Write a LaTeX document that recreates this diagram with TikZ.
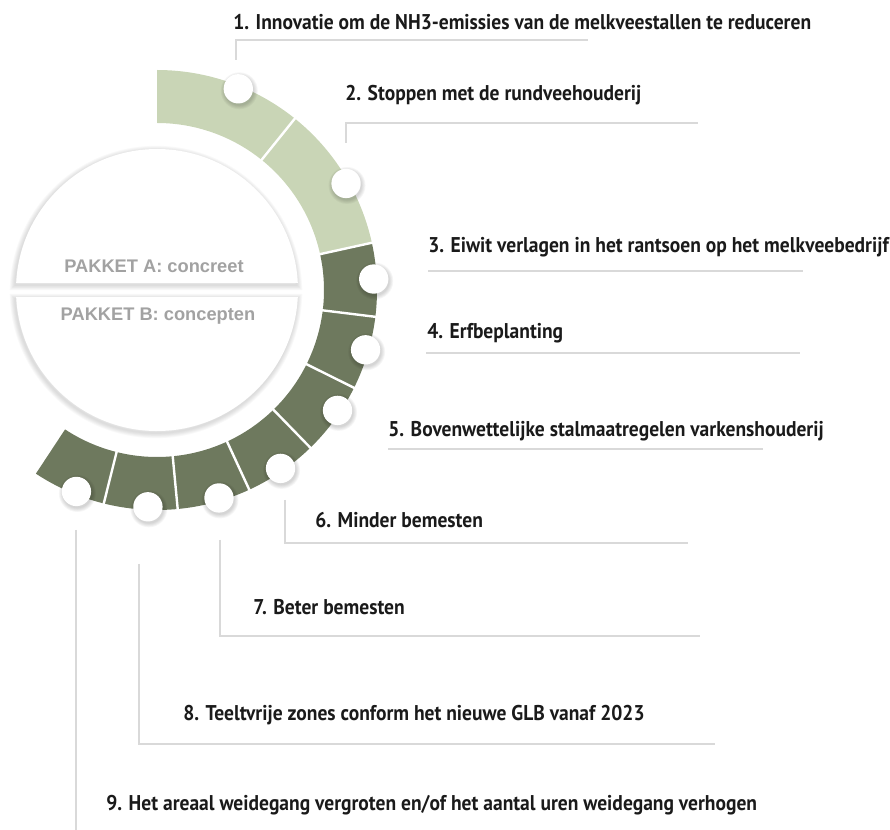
\documentclass[tikz,border=0pt]{standalone}
\usepackage{fontspec}
\setmainfont{PT Sans}
\newfontfamily\labelfont[FakeStretch=0.915]{PT Sans}
\newfontfamily\pakketfont{Liberation Sans}
\usetikzlibrary{positioning}

\definecolor{lightsage}{RGB}{201,213,182}
\definecolor{darksage}{RGB}{110,121,94}
\definecolor{leadergray}{RGB}{217,217,217}
\definecolor{pakketgray}{RGB}{162,162,162}
\definecolor{labelblack}{RGB}{26,26,26}

\tikzset{
  leader/.style={draw=leadergray, line width=1.2},
  item/.style={anchor=west, inner sep=0pt, text=labelblack,
    font=\labelfont\bfseries\fontsize{16}{19}\selectfont},
  pakket/.style={inner sep=0pt, text=pakketgray,
    font=\pakketfont\bfseries\fontsize{13.7}{16}\selectfont},
  dot/.style={circle, fill=white, minimum size=22pt, inner sep=0pt},
  halo/.style={draw=black, draw opacity=0.025},
}

\begin{document}
\begin{tikzpicture}[x=0.75pt,y=0.75pt,yscale=-1,xscale=1]
\useasboundingbox (0,0) rectangle (890,830);

%Shape: Ring and disc
\begin{scope}[shift={(157,290)},yscale=-1]
  % disc halves with soft shadow
  \foreach \s in {1,...,6}{
    \draw[halo, line width=\s*1.3] ([shift={(-1,-2)}]2.85:141) arc (2.85:177.15:141) -- cycle;
    \draw[halo, line width=\s*1.3] ([shift={(-1,-2)}]-2.85:141) arc (-2.85:-177.15:141) -- cycle;
  }
  \fill[white] (2.85:141) arc (2.85:177.15:141) -- cycle;
  \fill[white] (-2.85:141) arc (-2.85:-177.15:141) -- cycle;

  % ring segments
  \foreach \a/\b/\c in {90/51.2/lightsage, 51.2/12.4/lightsage, 12.4/-7/darksage,
      -7/-26.4/darksage, -26.4/-45.8/darksage, -45.8/-65.2/darksage,
      -65.2/-84.6/darksage, -84.6/-104/darksage, -104/-123.4/darksage}
    \fill[\c] (\a:167) arc (\a:\b:167) -- (\b:220) arc (\b:\a:220) -- cycle;
  \foreach \b in {51.2,12.4,-7,-26.4,-45.8,-65.2,-84.6,-104}
    \draw[white, line width=1.8] (\b:164) -- (\b:223);

  % dots
  \foreach \n/\a in {1/68,2/29.4,3/2.9,4/-16,5/-33.7,6/-55.3,7/-73.4,8/-92.4,9/-111.8}{
    \foreach \s in {1,...,5}
      \fill[black, opacity=0.035] ([shift={(1,-2)}]\a:217) circle ({14+\s*0.9});
    \node[dot] (d\n) at (\a:217) {};
  }
\end{scope}

% Text Node
\draw (154,266) node [pakket] (pa) {PAKKET A: concreet};
% Text Node
\draw (158,316) node [pakket] (pb) {PAKKET B: concepten};

%Straight Lines
\coordinate (a1) at (236,60);  \coordinate (b1) at (588,40);
\coordinate (a2) at (346,143); \coordinate (b2) at (698,123);
\coordinate (a3) at (428,271); \coordinate (b3) at (803,271);
\coordinate (a4) at (426,353); \coordinate (b4) at (800,353);
\coordinate (a5) at (388,449); \coordinate (b5) at (763,449);
\coordinate (a6) at (285,500); \coordinate (b6) at (688,543);
\coordinate (a7) at (220,540); \coordinate (b7) at (700,636);
\coordinate (a8) at (139,564); \coordinate (b8) at (715,744);
\coordinate (a9) at (76,530);  \coordinate (b9) at (76,830);
\foreach \n in {1,2,6,7,8}
  \draw[leader] (a\n) |- (b\n);
\foreach \n in {3,4,5,9}
  \draw[leader] (a\n) -- (b\n);

% Text Node
\draw (233,22) node [item] (t1) {1. Innovatie om de NH3-emissies van de melkveestallen te reduceren};
% Text Node
\draw (345,95) node [item] (t2) {2. Stoppen met de rundveehouderij};
% Text Node
\draw (428,247) node [item] (t3) {3. Eiwit verlagen in het rantsoen op het melkveebedrijf};
% Text Node
\draw (427,333) node [item] (t4) {4. Erfbeplanting};
% Text Node
\draw (388,431) node [item] (t5) {5. Bovenwettelijke stalmaatregelen varkenshouderij};
% Text Node
\draw (315,520) node [item] (t6) {6. Minder bemesten};
% Text Node
\draw (253,607) node [item] (t7) {7. Beter bemesten};
% Text Node
\draw (183,715) node [item] (t8) {8. Teeltvrije zones conform het nieuwe GLB vanaf 2023};
% Text Node
\draw (106,805) node [item] (t9) {9. Het areaal weidegang vergroten en/of het aantal uren weidegang verhogen};

\end{tikzpicture}
\end{document}
